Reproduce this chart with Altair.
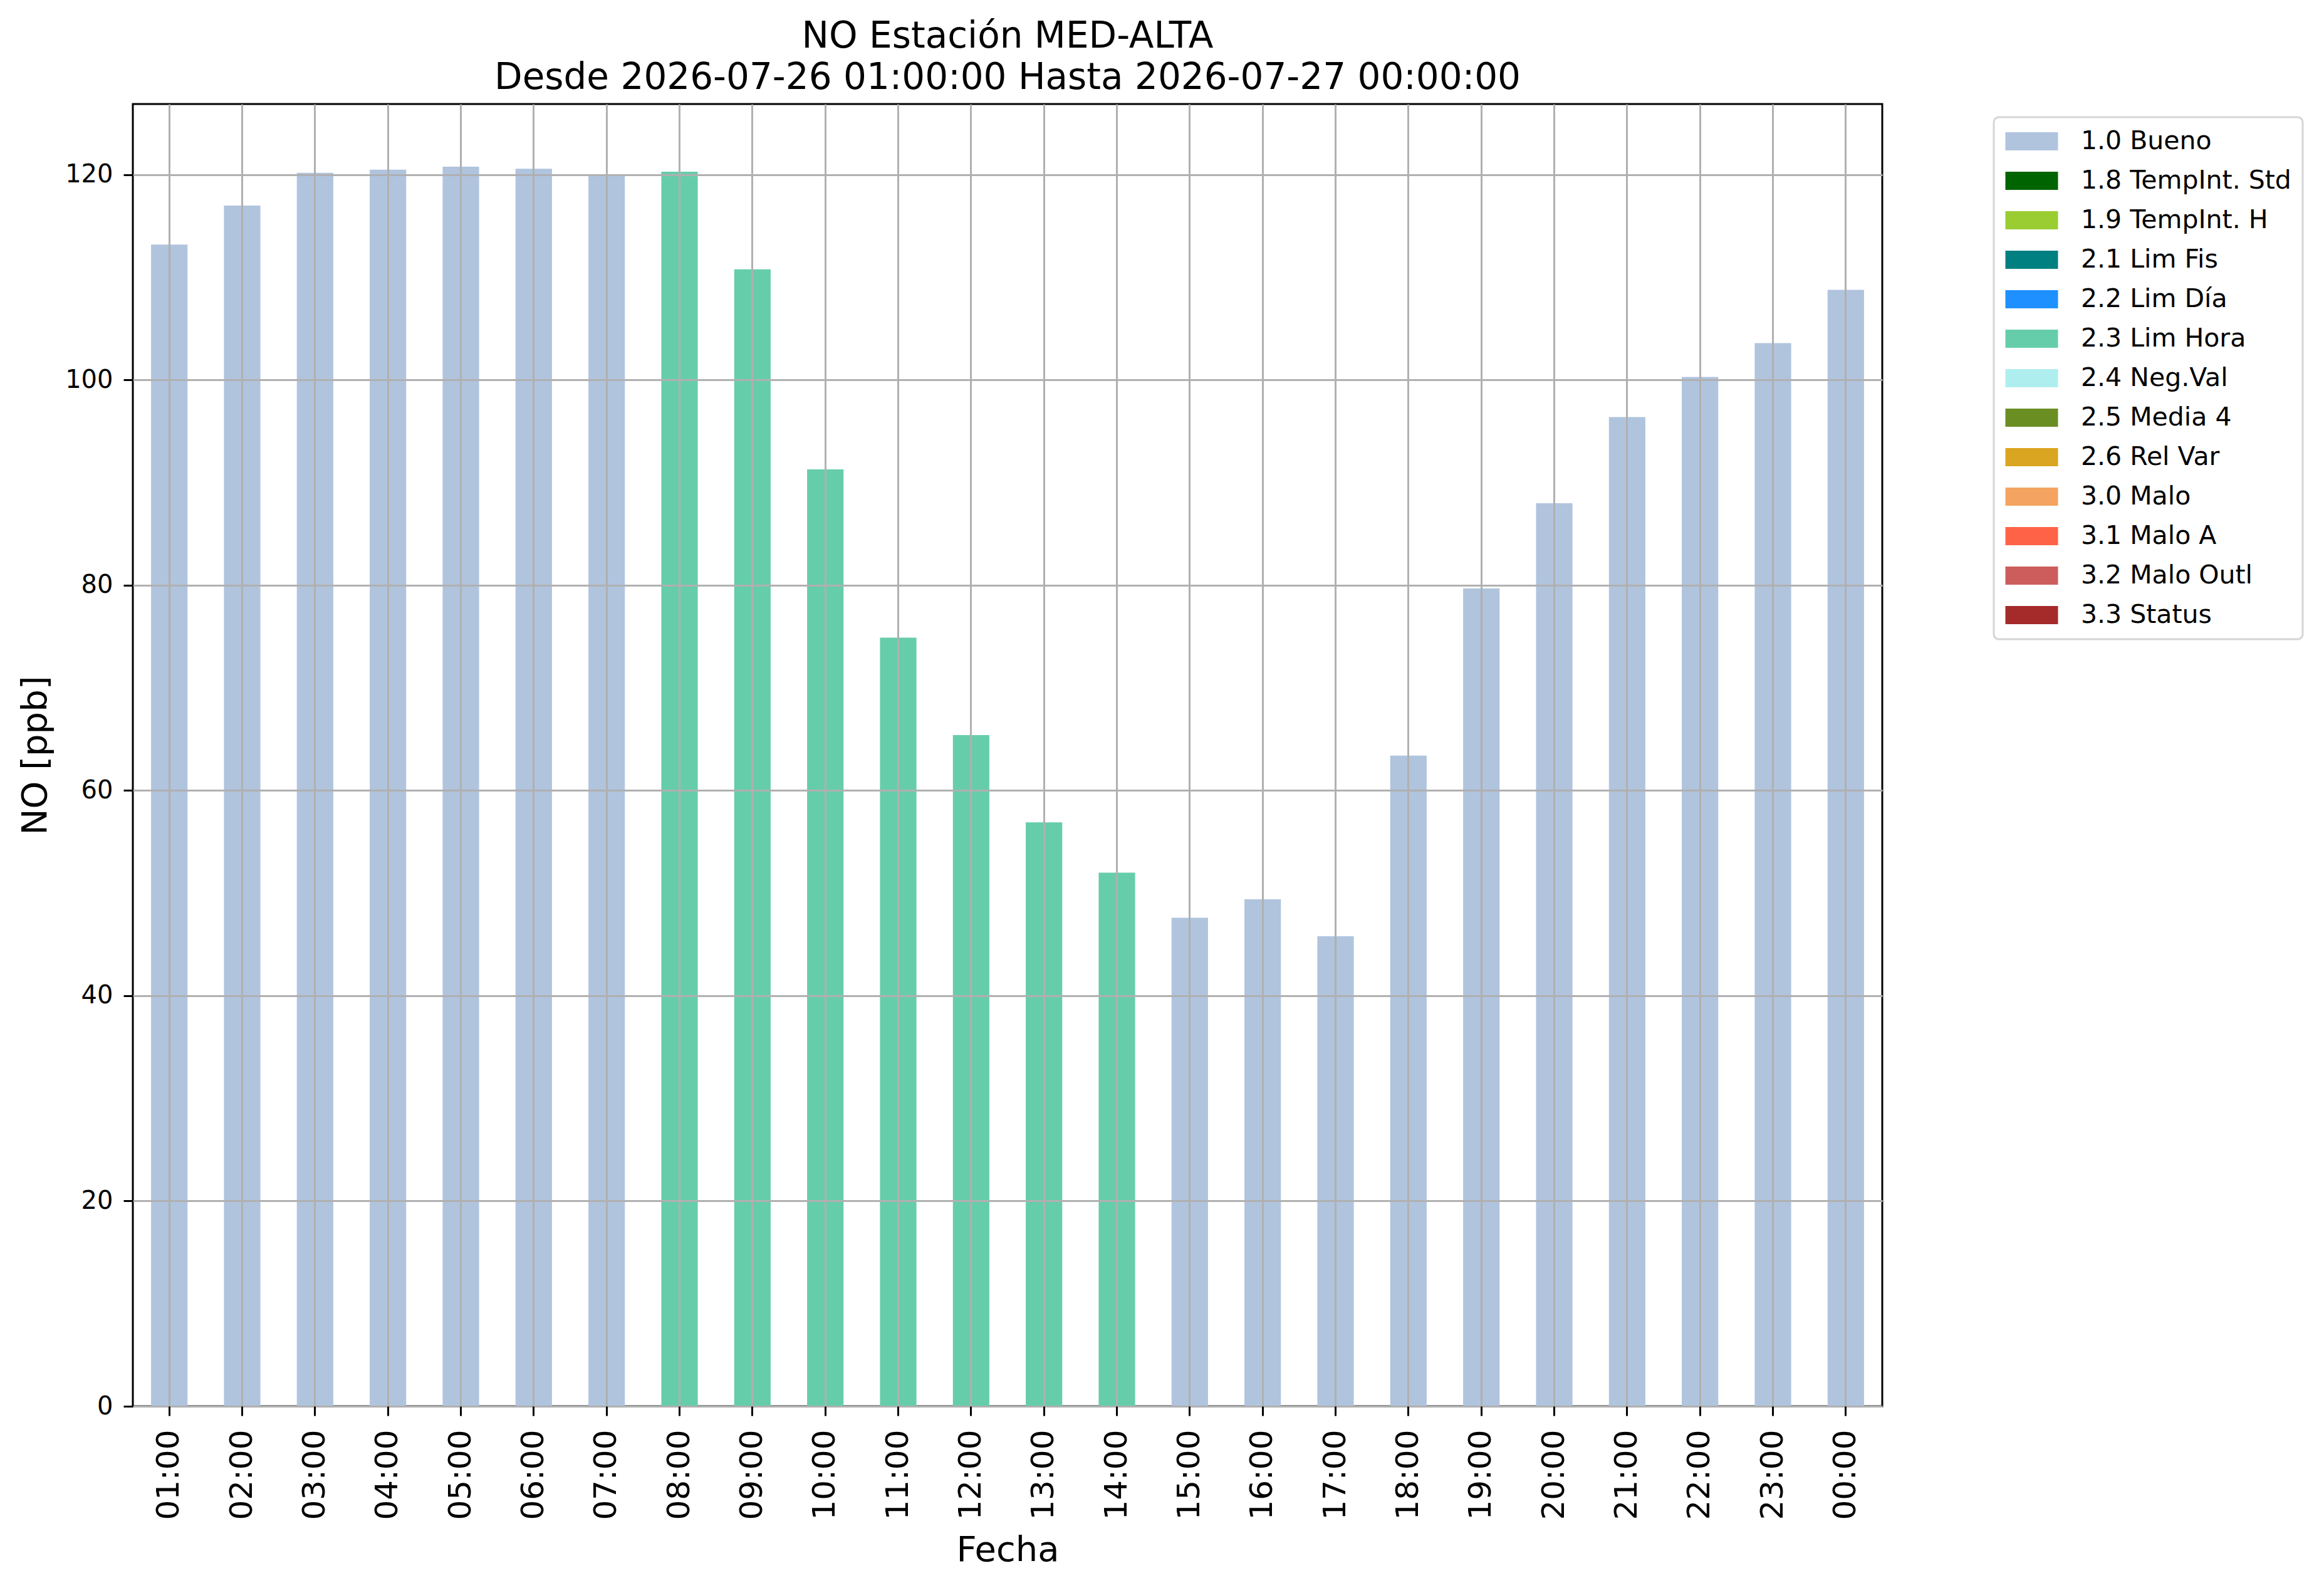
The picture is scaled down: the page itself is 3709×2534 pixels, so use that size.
import altair as alt
import pandas as pd

hours = ["01:00", "02:00", "03:00", "04:00", "05:00", "06:00", "07:00", "08:00",
         "09:00", "10:00", "11:00", "12:00", "13:00", "14:00", "15:00", "16:00",
         "17:00", "18:00", "19:00", "20:00", "21:00", "22:00", "23:00", "00:00"]
values = [113.2, 117.0, 120.2, 120.5, 120.8, 120.6, 119.9, 120.3,
          110.8, 91.3, 74.9, 65.4, 56.9, 52.0, 47.6, 49.4,
          45.8, 63.4, 79.7, 88.0, 96.4, 100.3, 103.6, 108.8]
flags = ["1.0 Bueno"] * 7 + ["2.3 Lim Hora"] * 7 + ["1.0 Bueno"] * 10

categories = ["1.0 Bueno", "1.8 TempInt. Std", "1.9 TempInt. H", "2.1 Lim Fis",
              "2.2 Lim Día", "2.3 Lim Hora", "2.4 Neg.Val", "2.5 Media 4",
              "2.6 Rel Var", "3.0 Malo", "3.1 Malo A", "3.2 Malo Outl", "3.3 Status"]
colors = ["#B0C4DE", "#006400", "#9ACD32", "#008080", "#1E90FF", "#66CDAA",
          "#AFEEEE", "#6B8E23", "#DAA520", "#F4A460", "#FF6347", "#CD5C5C", "#A52A2A"]

title_lines = ["NO Estación MED-ALTA",
               "Desde 2026-07-26 01:00:00 Hasta 2026-07-27 00:00:00"]
y_ticks = [0, 20, 40, 60, 80, 100, 120]

df = pd.DataFrame({"hora": hours, "valor": values, "flag": flags})

FONT = "DejaVu Sans"

chart = alt.Chart(df).mark_bar().encode(
    x=alt.X("hora:N", sort=hours, title="Fecha",
            scale=alt.Scale(paddingInner=0.5, paddingOuter=0.25),
            axis=alt.Axis(labelAngle=270, labelFontSize=50, titleFontSize=56,
                          labelPadding=22, titlePadding=21, bandPosition=0.5,
                          grid=True, zindex=1)),
    y=alt.Y("valor:Q", title="NO [ppb]",
            scale=alt.Scale(domain=[0, 126.9], nice=False, zero=True),
            axis=alt.Axis(values=y_ticks, labelFontSize=40, titleFontSize=56,
                          labelPadding=17, titlePadding=18, grid=True, zindex=1)),
    color=alt.Color("flag:N",
                    scale=alt.Scale(domain=categories, range=colors),
                    legend=alt.Legend(title=None, orient="none", legendX=2970,
                                      legendY=21)),
).properties(
    width=2792,
    height=2078,
    autosize=alt.AutoSizeParams(type="none"),
    padding={"left": 204, "top": 158, "right": 690, "bottom": 270},
    title=alt.TitleParams(text=title_lines, fontSize=58, font=FONT,
                          fontWeight="normal", lineHeight=66, anchor="middle",
                          frame="group", offset=12, color="black"),
).configure(
    font=FONT,
).configure_view(
    stroke="black", strokeWidth=3,
).configure_axis(
    labelFont=FONT, titleFont=FONT, labelColor="black", titleColor="black",
    titleFontWeight="normal", domain=False, gridColor="#b0b0b0",
    gridWidth=3, gridOpacity=1, tickColor="black", tickWidth=3, tickSize=15,
).configure_legend(
    labelFont=FONT, labelFontSize=41, labelColor="black",
    symbolType="M-1,-0.725H3.2V0.725H-1Z", symbolSize=1600,
    symbolStrokeWidth=0, symbolOpacity=1, labelOffset=80, rowPadding=21,
    padding=18, strokeColor="#d5d5d5", strokeWidth=3, cornerRadius=8,
    fillColor="white", labelLimit=1000,
)

chart.save("out.html", embed_options={"renderer": "svg", "actions": False})
